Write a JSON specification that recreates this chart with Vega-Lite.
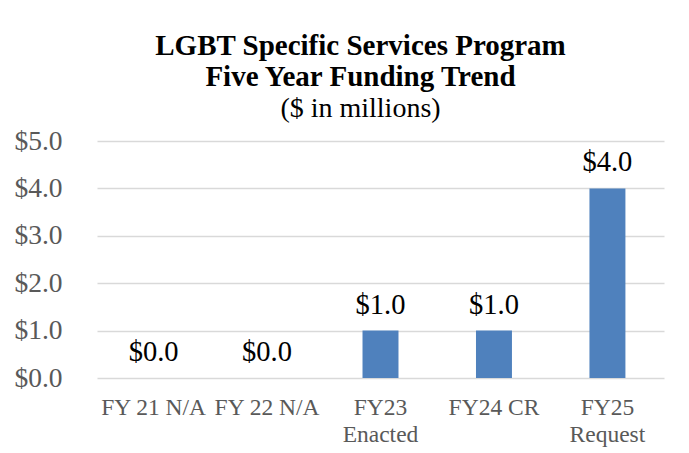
{
  "$schema": "https://vega.github.io/schema/vega-lite/v6.json",
  "width": 567,
  "height": 237,
  "autosize": "none",
  "padding": {"left": 97, "top": 141, "right": 25, "bottom": 75},
  "background": "white",
  "config": {
    "font": "Liberation Serif",
    "view": {"stroke": null}
  },
  "title": {
    "text": ["LGBT Specific Services Program", "Five Year Funding Trend"],
    "subtitle": "($ in millions)",
    "font": "Liberation Serif",
    "fontSize": 29,
    "fontWeight": "bold",
    "lineHeight": 31,
    "color": "black",
    "subtitleFont": "Liberation Serif",
    "subtitleFontSize": 28,
    "subtitleFontWeight": "normal",
    "subtitleColor": "black",
    "subtitlePadding": 3,
    "anchor": "middle",
    "dx": -20,
    "offset": 4
  },
  "data": {
    "values": [
      {"year": "FY 21 N/A", "amount": 0.0},
      {"year": "FY 22 N/A", "amount": 0.0},
      {"year": "FY23\nEnacted", "amount": 1.0},
      {"year": "FY24 CR", "amount": 1.0},
      {"year": "FY25\nRequest", "amount": 4.0}
    ]
  },
  "encoding": {
    "x": {
      "field": "year",
      "type": "nominal",
      "sort": null,
      "scale": {"paddingInner": 0.683, "paddingOuter": 0.34},
      "axis": {
        "title": null,
        "labelAngle": 0,
        "labelExpr": "split(datum.label, '\\n')",
        "labelFont": "Liberation Serif",
        "labelFontSize": 23.5,
        "labelColor": "#595959",
        "labelLineHeight": 27,
        "labelPadding": 17,
        "labelBaseline": "top",
        "domain": false,
        "ticks": false
      }
    },
    "y": {
      "field": "amount",
      "type": "quantitative",
      "scale": {"domain": [0, 5]},
      "axis": {
        "title": null,
        "values": [0, 1, 2, 3, 4, 5],
        "format": "$.1f",
        "labelFont": "Liberation Serif",
        "labelFontSize": 27.5,
        "labelColor": "#595959",
        "labelPadding": 35,
        "domain": false,
        "ticks": false,
        "gridColor": "#d9d9d9",
        "gridWidth": 1.5
      }
    }
  },
  "layer": [
    {"mark": {"type": "bar", "color": "#4f81bd"}},
    {
      "mark": {"type": "text", "baseline": "alphabetic", "dy": -17, "fontSize": 28.5, "font": "Liberation Serif", "color": "black"},
      "encoding": {"text": {"field": "amount", "type": "quantitative", "format": "$.1f"}}
    }
  ]
}
